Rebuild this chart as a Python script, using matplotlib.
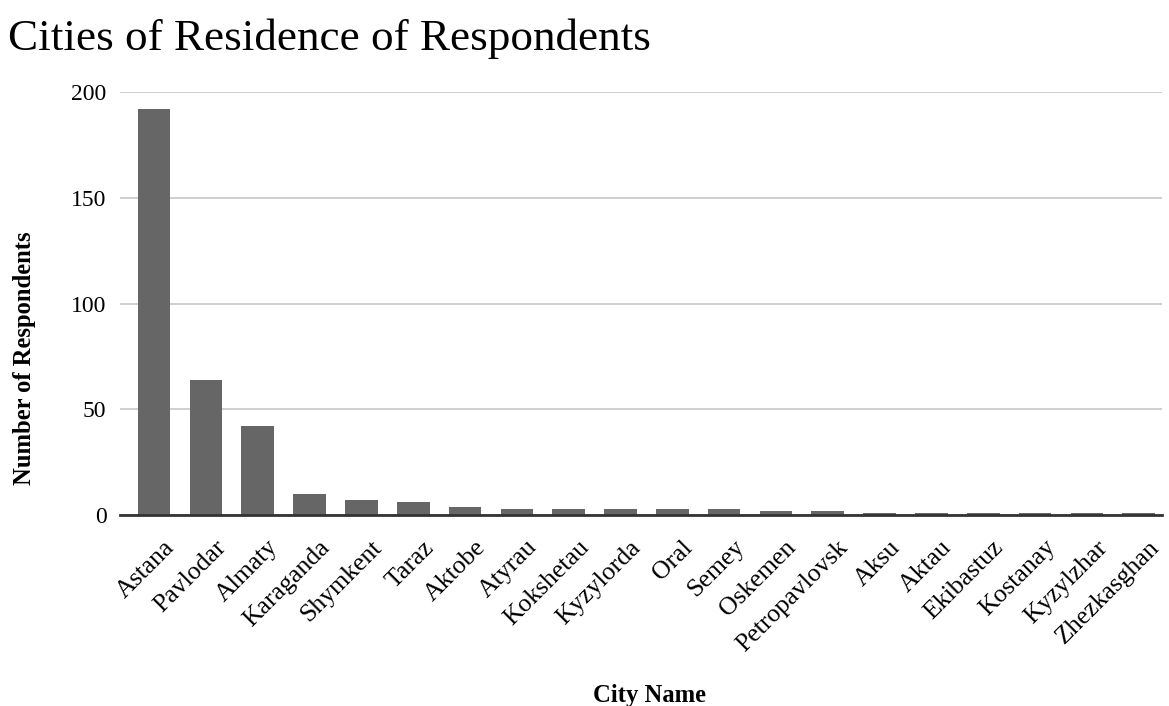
import matplotlib
matplotlib.use("Agg")
import matplotlib.pyplot as plt
from matplotlib.transforms import ScaledTranslation

cities = ["Astana", "Pavlodar", "Almaty", "Karaganda", "Shymkent", "Taraz",
          "Aktobe", "Atyrau", "Kokshetau", "Kyzylorda", "Oral", "Semey",
          "Oskemen", "Petropavlovsk", "Aksu", "Aktau", "Ekibastuz",
          "Kostanay", "Kyzylzhar", "Zhezkasghan"]
respondents = [192, 64, 42, 10, 7, 6, 4, 3, 3, 3, 3, 3, 2, 2, 1, 1, 1, 1, 1, 1]
yticks = [0, 50, 100, 150, 200]

plt.rcParams['font.family'] = ['Liberation Serif', 'DejaVu Serif']

fig = plt.figure(figsize=(11.69, 7.06), dpi=100)
ax = fig.add_axes([0.103, 0.2705, 0.891, 0.599])

x = range(len(cities))
ax.bar(x, respondents, width=0.63, color="#666666", zorder=3)

ax.set_ylim(0, 200)
ax.set_xlim(-0.65, len(cities) - 0.55)
ax.set_yticks(yticks)
ax.yaxis.grid(True, color="#cccccc", linewidth=1.3, zorder=0)
ax.tick_params(axis='y', length=0, labelsize=17, pad=10)
ax.tick_params(axis='x', length=0, labelsize=18.5, pad=0)

# rotated city names, right end pushed below/right of each bar
ax.set_xticks(list(x))
ax.set_xticklabels(cities, rotation=45, ha='right', va='center',
                   rotation_mode='anchor')
shift = ScaledTranslation(0.17, -0.29, fig.dpi_scale_trans)
for lab in ax.get_xticklabels():
    lab.set_transform(lab.get_transform() + shift)

for side in ['top', 'right', 'left']:
    ax.spines[side].set_visible(False)
ax.spines['bottom'].set_color('#333333')
ax.spines['bottom'].set_linewidth(2)
ax.spines['bottom'].set_zorder(4)

fig.text(0.021, 0.492, "Number of Respondents", fontsize=17.7, fontweight='bold',
         rotation=90, ha='center', va='center')
fig.text(0.556, 0.005, "City Name", fontsize=17.7, fontweight='bold',
         ha='center', va='baseline')
fig.text(0.007, 0.929, "Cities of Residence of Respondents", fontsize=32.5,
         ha='left', va='baseline')

fig.savefig("out.png", dpi=100)
